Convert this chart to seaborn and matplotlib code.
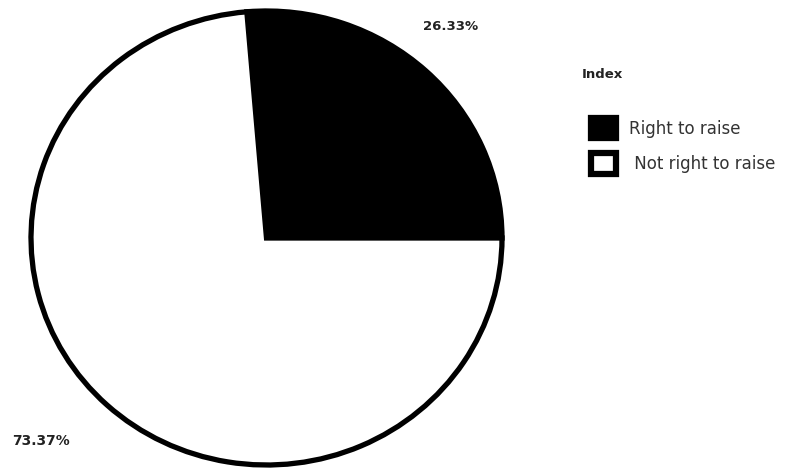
import matplotlib
matplotlib.use("Agg")
import matplotlib.pyplot as plt
from matplotlib.patches import Patch
import seaborn as sns

categories = ["Right to raise", "Not right to raise"]
shares = [26.33, 73.67]
share_labels = ["26.33%", "73.37%"]
legend_title = "Index"
colors = ["black", "white"]

sns.set_theme(style="white")
plt.rcParams["font.family"] = ["DejaVu Sans"]

W, H = 798, 470
fig = plt.figure(figsize=(W / 100, H / 100), dpi=100)
fig.patch.set_facecolor("white")

# Pie area in pixel coordinates (slightly wider than tall)
px_left, px_right, px_top, px_bottom = 31, 502, 11, 465
ax = fig.add_axes([px_left / W, 1 - px_bottom / H,
                   (px_right - px_left) / W, (px_bottom - px_top) / H])

# First wedge runs clockwise and ends on the horizontal axis
ax.pie(shares, colors=colors, startangle=shares[0] * 3.6,
       counterclock=False,
       wedgeprops=dict(edgecolor="black", linewidth=3.8))
ax.set_aspect("auto")
ax.set_xlim(-1, 1)
ax.set_ylim(-1, 1)
ax.axis("off")

# Percentage labels
fig.text(451 / W, 1 - 26 / H, share_labels[0], ha="center", va="center",
         fontsize=9.5, fontweight="bold", color="#222222")
fig.text(41 / W, 1 - 441 / H, share_labels[1], ha="center", va="center",
         fontsize=10, fontweight="bold", color="#222222")

# Legend
fig.text(582 / W, 1 - 75 / H, legend_title, ha="left", va="center",
         fontsize=9.5, fontweight="bold", color="#222222")
handles = [Patch(facecolor=c, edgecolor="black", linewidth=4.5) for c in colors]
labels = [categories[0], " " + categories[1]]
leg = fig.legend(handles, labels, loc="upper left",
                 bbox_to_anchor=(591 / W, 1 - 118 / H),
                 frameon=False, fontsize=12, handlelength=1.5, handleheight=1.5,
                 handletextpad=0.8, labelspacing=0.9, borderpad=0, borderaxespad=0)
for t in leg.get_texts():
    t.set_color("#333333")

fig.savefig("out.png", dpi=100, facecolor="white")
